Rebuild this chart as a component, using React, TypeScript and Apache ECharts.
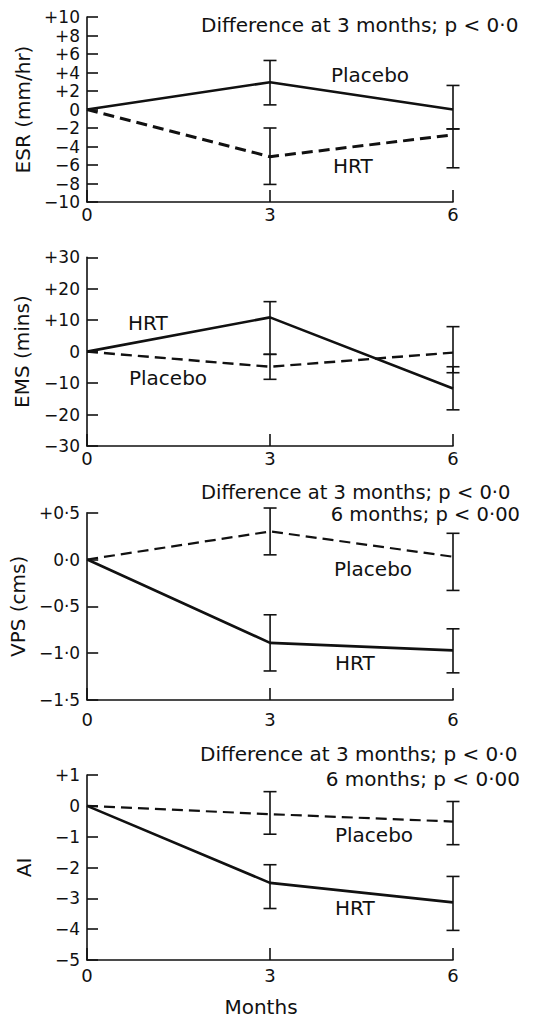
import React, { useEffect, useRef } from "react";
import * as echarts from "echarts";

// x categories (months) and the months where error bars are drawn
const months = [0, 3, 6];
const errMonths = [3, 6];

// Panel 1: ESR (mm/hr)
const esrPlacebo = [0, 2.95, 0.0];
const esrPlaceboLow = [0.5, -2.1];
const esrPlaceboHigh = [5.3, 2.6];
const esrHrt = [0, -5.1, -2.75];
const esrHrtLow = [-8.1, -6.3];
const esrHrtHigh = [-2.0, -2.1];

// Panel 2: EMS (mins)
const emsHrt = [0, 10.9, -11.7];
const emsHrtLow = [-0.85, -18.5];
const emsHrtHigh = [15.9, -4.8];
const emsPlacebo = [0, -4.8, -0.3];
const emsPlaceboLow = [-8.8, -6.7];
const emsPlaceboHigh = [-0.85, 7.95];

// Panel 3: VPS (cms)
const vpsPlacebo = [0, 0.3, 0.03];
const vpsPlaceboLow = [0.05, -0.33];
const vpsPlaceboHigh = [0.55, 0.28];
const vpsHrt = [0, -0.89, -0.97];
const vpsHrtLow = [-1.19, -1.21];
const vpsHrtHigh = [-0.59, -0.74];

// Panel 4: AI
const aiPlacebo = [0, -0.27, -0.51];
const aiPlaceboLow = [-0.92, -1.26];
const aiPlaceboHigh = [0.46, 0.14];
const aiHrt = [0, -2.5, -3.13];
const aiHrtLow = [-3.33, -4.04];
const aiHrtHigh = [-1.91, -2.29];

// axis ranges / tick intervals
const yRanges = [
  { name: "ESR (mm/hr)", min: -10, max: 10, interval: 2, dec: false },
  { name: "EMS (mins)", min: -30, max: 30, interval: 10, dec: false },
  { name: "VPS (cms)", min: -1.5, max: 0.5, interval: 0.5, dec: true },
  { name: "AI", min: -5, max: 1, interval: 1, dec: false },
];

const FONT = "DejaVu Sans";
const INK = "#111";

function fmt(v: number, dec: boolean) {
  const a = Math.abs(v);
  const body = dec ? a.toFixed(1).replace(".", "·") : String(Math.round(a));
  if (Math.abs(v) < 1e-9) return body;
  return (v > 0 ? "+" : "−") + body;
}

function pairs(ys: number[]) {
  return months.map((m, i) => [m, ys[i]]);
}
function errData(lo: number[], hi: number[]) {
  return errMonths.map((m, i) => [m, lo[i], hi[i]]);
}

const renderErr = (params: any, api: any) => {
  const x = api.value(0);
  const lo = api.value(1);
  const hi = api.value(2);
  const a = api.coord([x, hi]);
  const b = api.coord([x, lo]);
  const w = 6.5;
  const st = { stroke: INK, lineWidth: 1.6 };
  return {
    type: "group",
    children: [
      { type: "line", shape: { x1: a[0], y1: a[1], x2: b[0], y2: b[1] }, style: st },
      { type: "line", shape: { x1: a[0] - w, y1: a[1], x2: a[0] + w, y2: a[1] }, style: st },
      { type: "line", shape: { x1: b[0] - w, y1: b[1], x2: b[0] + w, y2: b[1] }, style: st },
    ],
  };
};

export default function App() {
  const ref = useRef<HTMLDivElement>(null);

  useEffect(() => {
    if (!ref.current) return;
    const chart = echarts.init(ref.current, null, { renderer: "svg" });

    const grids = [
      { left: 87, width: 366, top: 17, height: 185 },
      { left: 87, width: 366, top: 257.3, height: 188.7 },
      { left: 87, width: 366, top: 512.7, height: 187.3 },
      { left: 87, width: 366, top: 775, height: 185.7 },
    ];
    const nameGaps = [49, 55, 55, 53];
    const labelMargins = [3, 3, 10, 6];

    const xAxis = grids.map((g, i) => ({
      type: "value",
      gridIndex: i,
      min: 0,
      max: 6,
      interval: 3,
      axisLine: { show: true, onZero: false, lineStyle: { color: INK, width: 1.6 } },
      axisTick: { show: true, inside: true, length: 12, lineStyle: { color: INK, width: 1.6 } },
      splitLine: { show: false },
      axisLabel: { color: INK, fontFamily: FONT, fontSize: 18, margin: labelMargins[i] },
      ...(i === 3
        ? {
            name: "Months",
            nameLocation: "middle",
            nameGap: 37,
            nameTextStyle: { color: INK, fontFamily: FONT, fontSize: 20, padding: [0, 18, 0, 0] },
          }
        : {}),
    }));

    const yAxis = yRanges.map((r, i) => ({
      type: "value",
      gridIndex: i,
      min: r.min,
      max: r.max,
      interval: r.interval,
      name: r.name,
      nameLocation: "middle",
      nameRotate: 90,
      nameGap: nameGaps[i],
      nameTextStyle: { color: INK, fontFamily: FONT, fontSize: 20 },
      axisLine: { show: true, onZero: false, lineStyle: { color: INK, width: 1.6 } },
      axisTick: { show: true, inside: true, length: 11, lineStyle: { color: INK, width: 1.6 } },
      splitLine: { show: false },
      axisLabel: {
        color: INK,
        fontFamily: FONT,
        fontSize: 17,
        lineHeight: 17,
        margin: 7,
        formatter: (v: number) => fmt(v, r.dec),
      },
    }));

    const solid = { color: INK, width: 2.6, type: "solid" };
    const dashed = (w: number) => ({ color: INK, width: w, type: [11, 6] });

    const lineSeries = (name: string, idx: number, ys: number[], style: any) => ({
      type: "line",
      name,
      xAxisIndex: idx,
      yAxisIndex: idx,
      data: pairs(ys),
      symbol: "none",
      lineStyle: style,
      itemStyle: { color: INK },
      z: 3,
    });
    const errSeries = (name: string, idx: number, lo: number[], hi: number[]) => ({
      type: "custom",
      name,
      xAxisIndex: idx,
      yAxisIndex: idx,
      data: errData(lo, hi),
      encode: { x: 0, y: [1, 2] },
      renderItem: renderErr,
      z: 4,
    });

    const series = [
      lineSeries("Placebo", 0, esrPlacebo, solid),
      lineSeries("HRT", 0, esrHrt, dashed(3)),
      errSeries("Placebo SE", 0, esrPlaceboLow, esrPlaceboHigh),
      errSeries("HRT SE", 0, esrHrtLow, esrHrtHigh),

      lineSeries("HRT", 1, emsHrt, solid),
      lineSeries("Placebo", 1, emsPlacebo, dashed(2.4)),
      errSeries("HRT SE", 1, emsHrtLow, emsHrtHigh),
      errSeries("Placebo SE", 1, emsPlaceboLow, emsPlaceboHigh),

      lineSeries("Placebo", 2, vpsPlacebo, dashed(2.2)),
      lineSeries("HRT", 2, vpsHrt, solid),
      errSeries("Placebo SE", 2, vpsPlaceboLow, vpsPlaceboHigh),
      errSeries("HRT SE", 2, vpsHrtLow, vpsHrtHigh),

      lineSeries("Placebo", 3, aiPlacebo, dashed(2.2)),
      lineSeries("HRT", 3, aiHrt, solid),
      errSeries("Placebo SE", 3, aiPlaceboLow, aiPlaceboHigh),
      errSeries("HRT SE", 3, aiHrtLow, aiHrtHigh),
    ];

    const txt = (text: string, x: number, y: number, align: string = "left", size = 20) => ({
      type: "text",
      x,
      y,
      style: {
        text,
        fill: INK,
        font: `${size}px "${FONT}"`,
        lineHeight: size,
        textAlign: align,
        textVerticalAlign: "middle",
      },
      z: 10,
    });

    const graphic = [
      txt("Difference at 3 months; p < 0·0", 201, 25),
      txt("Placebo", 331, 75),
      txt("HRT", 333, 166),

      txt("HRT", 128, 323),
      txt("Placebo", 129, 378),

      txt("Difference at 3 months; p < 0·0", 201, 492.5, "left", 19.5),
      txt("6 months; p < 0·00", 520, 514.5, "right", 19.5),
      txt("Placebo", 334, 569),
      txt("HRT", 335, 663),

      txt("Difference at 3 months; p < 0·0", 200, 754),
      txt("6 months; p < 0·00", 520, 779, "right"),
      txt("Placebo", 335, 835),
      txt("HRT", 335, 908),
    ];

    chart.setOption({
      animation: false,
      backgroundColor: "#fff",
      textStyle: { fontFamily: FONT },
      grid: grids,
      xAxis,
      yAxis,
      series,
      graphic,
    });

    return () => chart.dispose();
  }, []);

  return (
    <div
      ref={ref}
      style={{ position: "absolute", left: 0, top: 0, width: 541, height: 1018, background: "#fff" }}
    />
  );
}
